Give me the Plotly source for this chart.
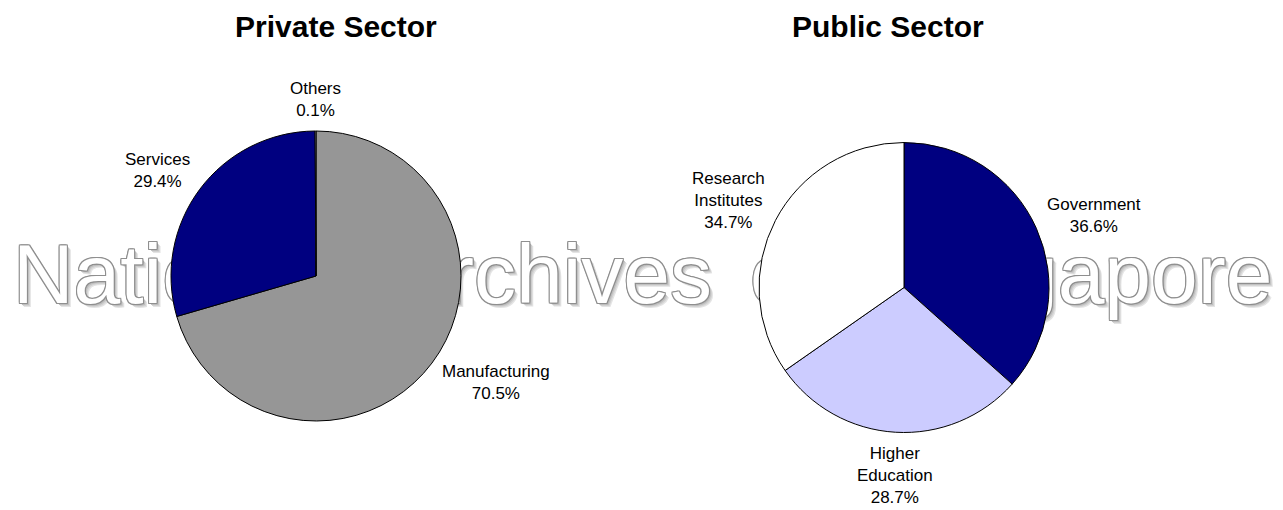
import math
import plotly.graph_objects as go

# page body has an 8px margin: figure is sized/positioned to fit the 1283x510 window
OFF = 8
W, H = 1283 - OFF, 510 - OFF

# ---- data ----
private_labels = ["Manufacturing", "Services", "Others"]
private_values = [70.5, 29.4, 0.1]
private_colors = ["#969696", "#000080", "#FFFFFF"]

public_labels = ["Government", "Higher<br>Education", "Research<br>Institutes"]
public_values = [36.6, 28.7, 34.7]
public_colors = ["#000080", "#CCCCFF", "#FFFFFF"]

titles = ["Private Sector", "Public Sector"]
watermark_words = ["National", "Archives", "of", "Singapore"]


def px2x(X):
    return (X - OFF) / W


def px2y(Y):
    return 1 - (Y - OFF) / H


# ---- layout geometry (window pixels) ----
pies = [
    dict(labels=private_labels, values=private_values, colors=private_colors,
         cx=316, cy=276, r=145, title=titles[0], tx=336),
    dict(labels=public_labels, values=public_values, colors=public_colors,
         cx=904, cy=287.5, r=145, title=titles[1], tx=888),
]

FONT = "Liberation Sans, Arial, sans-serif"
LABEL_SIZE = 17
LINE_H = 22
GAP = 10

fig = go.Figure()
annotations = []

for p in pies:
    cx, cy, r = p["cx"], p["cy"], p["r"]
    fig.add_trace(go.Pie(
        labels=p["labels"], values=p["values"],
        marker=dict(colors=p["colors"], line=dict(color="black", width=1)),
        sort=False, direction="clockwise", rotation=0,
        textinfo="none", hoverinfo="label+percent", showlegend=False,
        domain=dict(x=[px2x(cx - r), px2x(cx + r)],
                    y=[px2y(cy + r), px2y(cy - r)]),
    ))
    total = sum(p["values"])
    cum = 0.0
    for lab, v in zip(p["labels"], p["values"]):
        theta = math.radians(360.0 * (cum + v / 2) / total)
        cum += v
        dx, dy = math.sin(theta), math.cos(theta)
        lx = cx + dx * (r + GAP)
        ly = cy - dy * (r + GAP)
        xa = "left" if dx > 0.3 else ("right" if dx < -0.3 else "center")
        text = f"{lab}<br>{v:.1f}%"
        nlines = text.count("<br>") + 1
        annotations.append(dict(
            x=px2x(lx), y=px2y(ly), xref="paper", yref="paper",
            xanchor=xa, yanchor="middle", yshift=dy * nlines * LINE_H / 2,
            text=text, showarrow=False, align="center",
            font=dict(family=FONT, size=LABEL_SIZE, color="black"),
        ))
    annotations.append(dict(
        x=px2x(p["tx"]), y=1, xref="paper", yref="paper",
        xanchor="center", yanchor="top",
        text=f"<b>{p['title']}</b>",
        showarrow=False, font=dict(family=FONT, size=30, color="black"),
    ))

# ---- watermark (drawn below the pies) ----
word_centers = [167, 551, 785, 1081]
WM_SIZE = 84
wm_cy = 266
wm_h = 120
wm_w = 330
layers = [((4, 4), "#e4e4e4"), ((3, 3), "#d2d2d2"), ((2, 2), "#bdbdbd")]
for ox in (-1, 0, 1):
    for oy in (-1, 0, 1):
        if ox or oy:
            layers.append(((ox, oy), "#8f8f8f"))
layers.append(((0, 0), "#FFFFFF"))
shapes = []
for word, wx in zip(watermark_words, word_centers):
    for (ox, oy), col in layers:
        shapes.append(dict(
            type="rect", xref="paper", yref="paper", layer="below",
            x0=px2x(wx + ox - wm_w / 2), x1=px2x(wx + ox + wm_w / 2),
            y0=px2y(wm_cy + oy + wm_h / 2), y1=px2y(wm_cy + oy - wm_h / 2),
            line=dict(width=0), fillcolor="rgba(0,0,0,0)",
            label=dict(text=word, textposition="middle center",
                       font=dict(family=FONT, size=WM_SIZE, color=col)),
        ))

fig.update_layout(
    width=W, height=H,
    margin=dict(l=0, r=0, t=0, b=0),
    paper_bgcolor="white", plot_bgcolor="white",
    annotations=annotations, shapes=shapes,
)

fig.write_html("out.html")
